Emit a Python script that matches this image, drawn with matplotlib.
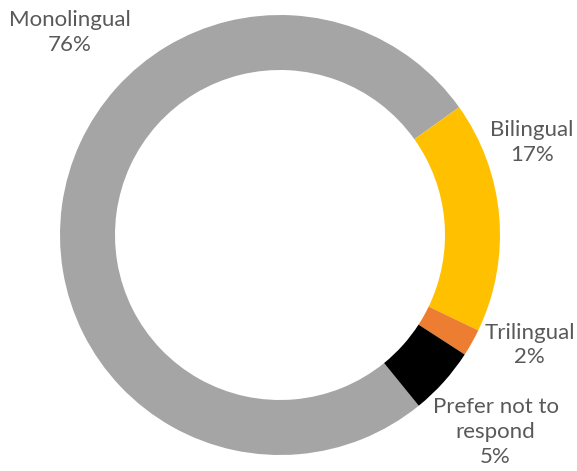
import matplotlib
matplotlib.use('Agg')
import matplotlib.pyplot as plt

labels = ['Monolingual', 'Bilingual', 'Trilingual', 'Prefer not to\nrespond']
values = [76, 17, 2, 5]
colors = ['#A5A5A5', '#FFC000', '#ED7D31', '#000000']

# label positions in data units (radius 1 = outer ring)
label_pos = [(-0.955, 0.92), (1.145, 0.42), (1.135, -0.50), (0.98, -0.895)]

plt.rcParams['font.family'] = ['Lato', 'DejaVu Sans']

fig = plt.figure(figsize=(5.77, 4.71), dpi=100)
ax = fig.add_axes([0, 0, 1, 1])

ax.pie(values, colors=colors, startangle=-50.9, counterclock=False,
       radius=1.0, wedgeprops=dict(width=0.25, linewidth=0))

for lab, v, (x, y) in zip(labels, values, label_pos):
    ax.text(x, y, '%s\n%d%%' % (lab, v), ha='center', va='center',
            fontsize=16, color='#595959', linespacing=1.3)

ax.set_xlim(-280 / 220, 297 / 220)
ax.set_ylim(-236 / 220, 235 / 220)
ax.set_aspect('equal')
ax.axis('off')

fig.savefig('out.png', dpi=100)
